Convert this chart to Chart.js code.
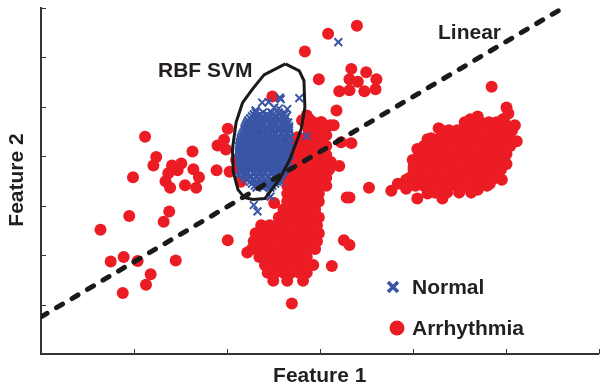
<!DOCTYPE html>
<html>
<head>
<meta charset="utf-8">
<script src="https://cdn.jsdelivr.net/npm/chart.js@4.4.1/dist/chart.umd.min.js"></script>
<style>
  html, body { margin: 0; padding: 0; background: #fff; }
  canvas { display: block; }
</style>
</head>
<body>
<canvas id="grafico" width="606" height="392"></canvas>
<script>
// ejes sin etiquetas: solo marcas
var xTicks = [0, 1, 2, 3, 4, 5, 6];
var yTicks = [0, 1, 2, 3, 4, 5, 6, 7];

// Normal: puntos sueltos [x, y]
var normalSueltos = [
  [3.20, 6.30], [2.78, 5.17], [2.86, 4.40], [2.29, 3.01], [2.33, 2.88], [2.47, 3.18],
  [2.38, 5.08], [2.57, 5.18], [2.51, 4.98], [2.45, 5.09], [2.58, 5.15], [2.56, 4.96],
  [2.65, 4.95], [2.14, 4.21], [2.12, 3.61], [2.45, 3.38], [2.58, 3.48], [2.31, 4.92]
];
// Normal: nube densa, por filas [y, [x...]]
var normalNube = [
  [4.88, [2.31, 2.39, 2.48, 2.56]],
  [4.84, [2.29, 2.36, 2.43, 2.50, 2.57, 2.62]],
  [4.80, [2.27, 2.33, 2.39, 2.46, 2.52, 2.59, 2.64]],
  [4.76, [2.25, 2.31, 2.38, 2.44, 2.50, 2.57, 2.63]],
  [4.72, [2.23, 2.30, 2.36, 2.43, 2.49, 2.55, 2.62]],
  [4.68, [2.22, 2.28, 2.34, 2.40, 2.47, 2.53, 2.60, 2.66]],
  [4.64, [2.21, 2.27, 2.33, 2.39, 2.46, 2.52, 2.59, 2.65]],
  [4.60, [2.20, 2.26, 2.32, 2.38, 2.44, 2.51, 2.57, 2.63, 2.67]],
  [4.56, [2.19, 2.24, 2.30, 2.36, 2.43, 2.49, 2.55, 2.62, 2.67]],
  [4.52, [2.19, 2.25, 2.31, 2.37, 2.43, 2.49, 2.56, 2.62, 2.67]],
  [4.48, [2.18, 2.22, 2.28, 2.33, 2.39, 2.46, 2.52, 2.59, 2.65]],
  [4.44, [2.17, 2.23, 2.29, 2.35, 2.41, 2.47, 2.53, 2.59, 2.65]],
  [4.40, [2.16, 2.20, 2.26, 2.31, 2.36, 2.43, 2.49, 2.55, 2.62, 2.67]],
  [4.36, [2.15, 2.21, 2.27, 2.33, 2.39, 2.45, 2.51, 2.57, 2.63, 2.68]],
  [4.32, [2.15, 2.19, 2.24, 2.30, 2.35, 2.40, 2.46, 2.52, 2.59, 2.65]],
  [4.28, [2.14, 2.20, 2.26, 2.32, 2.37, 2.43, 2.49, 2.55, 2.61, 2.67]],
  [4.24, [2.14, 2.18, 2.22, 2.28, 2.33, 2.38, 2.44, 2.49, 2.55, 2.62, 2.67]],
  [4.20, [2.13, 2.19, 2.25, 2.31, 2.36, 2.42, 2.48, 2.53, 2.59, 2.65]],
  [4.16, [2.14, 2.19, 2.24, 2.30, 2.35, 2.40, 2.46, 2.51, 2.56, 2.62, 2.67]],
  [4.12, [2.13, 2.16, 2.21, 2.27, 2.32, 2.38, 2.43, 2.49, 2.54, 2.59, 2.65]],
  [4.08, [2.13, 2.17, 2.22, 2.28, 2.33, 2.38, 2.44, 2.49, 2.54, 2.60, 2.65]],
  [4.04, [2.13, 2.18, 2.24, 2.29, 2.35, 2.41, 2.46, 2.52, 2.57, 2.63, 2.68]],
  [4.00, [2.14, 2.19, 2.24, 2.30, 2.35, 2.40, 2.46, 2.51, 2.56, 2.62, 2.67]],
  [3.96, [2.14, 2.16, 2.21, 2.27, 2.32, 2.38, 2.43, 2.48, 2.54, 2.59, 2.64]],
  [3.92, [2.14, 2.18, 2.23, 2.29, 2.34, 2.39, 2.45, 2.50, 2.55, 2.61, 2.66]],
  [3.88, [2.14, 2.20, 2.26, 2.31, 2.37, 2.42, 2.47, 2.53, 2.58, 2.64]],
  [3.84, [2.15, 2.20, 2.26, 2.31, 2.36, 2.41, 2.47, 2.52, 2.57, 2.64]],
  [3.80, [2.15, 2.18, 2.24, 2.29, 2.35, 2.40, 2.45, 2.51, 2.56, 2.62]],
  [3.76, [2.16, 2.21, 2.27, 2.32, 2.37, 2.43, 2.48, 2.53, 2.59, 2.64]],
  [3.72, [2.16, 2.19, 2.25, 2.32, 2.38, 2.44, 2.51, 2.57, 2.62]],
  [3.68, [2.17, 2.22, 2.29, 2.35, 2.41, 2.48, 2.54, 2.61]],
  [3.64, [2.18, 2.22, 2.29, 2.35, 2.41, 2.48, 2.54, 2.59]],
  [3.60, [2.19, 2.26, 2.32, 2.38, 2.45, 2.51, 2.57]],
  [3.56, [2.20, 2.25, 2.32, 2.38, 2.44, 2.51, 2.56]],
  [3.52, [2.22, 2.29, 2.35, 2.41, 2.48, 2.54]],
  [3.48, [2.25, 2.31, 2.37, 2.43, 2.49, 2.54]],
  [3.44, [2.27, 2.33, 2.39, 2.46, 2.52]],
  [3.40, [2.30, 2.36, 2.42, 2.49]],
  [3.36, [2.32, 2.39, 2.47]]
];

// Arrhythmia: puntos sueltos y grupos pequeños [x, y]
var arritmiaSueltos = [
  // izquierda
  [1.12, 4.39], [1.24, 3.98], [1.21, 3.81], [0.99, 3.57], [1.41, 3.81], [1.51, 3.85],
  [1.47, 3.71], [1.37, 3.65], [1.34, 3.49], [1.39, 3.36], [1.55, 3.41], [1.63, 4.09],
  [1.64, 3.73], [1.70, 3.57], [1.67, 3.36], [1.90, 4.21], [1.97, 4.33], [1.99, 4.13],
  [2.01, 4.55], [1.89, 3.71], [2.03, 3.68], [0.95, 2.79], [1.38, 2.88], [1.32, 2.67],
  [0.64, 2.51], [2.01, 2.30], [0.75, 1.87], [0.89, 1.96], [1.04, 1.88], [1.45, 1.89],
  [1.18, 1.61], [1.13, 1.40], [0.88, 1.23], [2.10, 3.92], [2.12, 3.75], [2.15, 3.48],
  [2.49, 5.20],
  // arriba
  [3.40, 6.63], [3.09, 6.47], [2.84, 6.11], [3.34, 5.76], [3.50, 5.69], [3.61, 5.55],
  [3.32, 5.55], [3.41, 5.50], [2.99, 5.55], [3.21, 5.31], [3.32, 5.33], [3.48, 5.31],
  [3.60, 5.35], [3.18, 4.92], [2.86, 4.82],
  // a la derecha de la nube azul
  [3.53, 3.36], [3.29, 3.16], [3.32, 3.16], [3.21, 3.80], [3.23, 4.28], [3.34, 4.26],
  [3.07, 4.42], [3.02, 4.68], [3.11, 4.62], [3.15, 4.62], [3.07, 4.02],
  [2.81, 4.72], [2.89, 4.74], [2.99, 4.64], [2.76, 4.38],
  // abajo
  [3.32, 2.20], [3.26, 2.30], [3.13, 1.78], [2.70, 1.02], [2.51, 3.05], [2.22, 2.05],
  // borde del grupo grande de la derecha
  [3.77, 3.30], [3.84, 3.44], [3.93, 3.52], [3.93, 3.34], [4.01, 3.78], [4.00, 3.92],
  [4.05, 4.14], [4.16, 4.34], [4.28, 4.56], [4.62, 4.74], [4.70, 4.80],
  [4.97, 4.74], [5.01, 4.98], [5.03, 4.86], [5.10, 4.62], [5.12, 4.30],
  [5.01, 3.84], [4.96, 3.52], [4.83, 3.44], [4.70, 3.32], [4.54, 3.38], [4.33, 3.28],
  [4.32, 3.14], [4.16, 3.24], [4.05, 3.14], [4.06, 3.44], [4.85, 5.40]
];
// Arrhythmia: zonas densas, por filas [y, [x...]]
var arritmiaCentro = [
  [4.68, [2.84, 2.93, 3.01]],
  [4.52, [2.88, 2.97, 3.05]],
  [4.36, [2.78, 2.86, 2.95, 3.03]],
  [4.20, [2.73, 2.82, 2.90, 2.99, 3.07]],
  [4.04, [2.71, 2.80, 2.88, 2.97, 3.05]],
  [3.88, [2.69, 2.78, 2.86, 2.95, 3.03, 3.12]],
  [3.72, [2.67, 2.76, 2.84, 2.93, 3.01, 3.10]],
  [3.56, [2.65, 2.73, 2.82, 2.90, 2.99, 3.07]],
  [3.40, [2.65, 2.73, 2.82, 2.90, 2.99, 3.07]],
  [3.24, [2.65, 2.73, 2.82, 2.90, 2.99]],
  [3.08, [2.65, 2.73, 2.82, 2.90, 2.99]],
  [2.92, [2.61, 2.69, 2.78, 2.86, 2.95]],
  [2.76, [2.56, 2.65, 2.73, 2.82, 2.90, 2.99]],
  [2.60, [2.37, 2.46, 2.54, 2.63, 2.71, 2.80, 2.88, 2.97]],
  [2.44, [2.31, 2.39, 2.48, 2.56, 2.65, 2.73, 2.82, 2.90, 2.99]],
  [2.28, [2.29, 2.37, 2.46, 2.54, 2.63, 2.71, 2.80, 2.88, 2.97]],
  [2.12, [2.27, 2.35, 2.44, 2.52, 2.61, 2.69, 2.78, 2.86, 2.95]],
  [1.96, [2.35, 2.44, 2.52, 2.61, 2.69, 2.78, 2.86]],
  [1.80, [2.41, 2.50, 2.59, 2.67, 2.76, 2.84, 2.93]],
  [1.64, [2.44, 2.52, 2.61, 2.69, 2.78, 2.86]],
  [1.48, [2.50, 2.65, 2.82]]
];
var arritmiaGrupo = [
  [4.68, [4.56, 4.65, 4.73, 4.82, 4.90, 4.99]],
  [4.52, [4.31, 4.39, 4.48, 4.56, 4.65, 4.73, 4.82, 4.90, 4.99, 5.07]],
  [4.36, [4.20, 4.29, 4.37, 4.46, 4.54, 4.63, 4.71, 4.80, 4.88, 4.97, 5.05]],
  [4.20, [4.12, 4.20, 4.29, 4.37, 4.46, 4.54, 4.63, 4.71, 4.80, 4.88, 4.97, 5.05]],
  [4.04, [4.07, 4.16, 4.24, 4.33, 4.41, 4.50, 4.59, 4.67, 4.76, 4.84, 4.93, 5.01]],
  [3.88, [4.03, 4.12, 4.20, 4.29, 4.37, 4.46, 4.54, 4.63, 4.71, 4.80, 4.88, 4.97]],
  [3.72, [4.01, 4.10, 4.18, 4.27, 4.35, 4.44, 4.52, 4.61, 4.69, 4.78, 4.86, 4.95]],
  [3.56, [3.97, 4.05, 4.14, 4.22, 4.31, 4.39, 4.48, 4.56, 4.65, 4.73, 4.82, 4.90]],
  [3.40, [4.03, 4.12, 4.20, 4.29, 4.37, 4.46, 4.54, 4.63, 4.71, 4.80]],
  [3.26, [4.24, 4.37, 4.50, 4.63]]
];

// fronteras de decisión
var fronteraLineal = [[0, 0.75], [5.59, 6.96]];
var fronteraRBF = [
  [2.63, 5.86], [2.78, 5.72], [2.83, 5.52], [2.84, 4.98], [2.80, 4.54], [2.74, 4.24],
  [2.68, 3.94], [2.57, 3.54], [2.41, 3.14], [2.28, 3.12], [2.19, 3.16], [2.12, 3.32],
  [2.07, 3.68], [2.06, 4.14], [2.10, 4.68], [2.17, 5.08], [2.28, 5.36], [2.40, 5.64],
  [2.63, 5.86]
];

function aPuntos(lista) {
  return lista.map(function (p) { return { x: p[0], y: p[1] }; });
}
function filasAPuntos(filas) {
  var out = [];
  filas.forEach(function (f) {
    f[1].forEach(function (x) { out.push({ x: x, y: f[0] }); });
  });
  return out;
}

var ROJO = "#ec1c24";
var AZUL = "#3a55a5";
var TEXTO = "#231f20";
var FUENTE = 'bold 21px "Liberation Sans", Arial, sans-serif';

var decoracion = {
  id: "decoracion",
  afterDraw: function (chart) {
    var ctx = chart.ctx, a = chart.chartArea;
    var sx = chart.scales.x, sy = chart.scales.y;
    ctx.save();
    // marcas hacia dentro
    ctx.strokeStyle = "#333";
    ctx.lineWidth = 1;
    ctx.beginPath();
    sx.ticks.forEach(function (t) {
      var px = Math.round(sx.getPixelForValue(t.value)) + 0.5;
      ctx.moveTo(px, a.bottom);
      ctx.lineTo(px, a.bottom - 5);
    });
    sy.ticks.forEach(function (t) {
      var py = Math.round(sy.getPixelForValue(t.value)) + 0.5;
      ctx.moveTo(a.left, py);
      ctx.lineTo(a.left + 5, py);
    });
    ctx.stroke();

    // títulos y etiquetas
    ctx.fillStyle = TEXTO;
    ctx.font = FUENTE;
    ctx.textBaseline = "middle";
    ctx.textAlign = "center";
    ctx.fillText("Feature 1", (a.left + a.right) / 2, 376);
    ctx.save();
    ctx.translate(17, 180);
    ctx.rotate(-Math.PI / 2);
    ctx.fillText("Feature 2", 0, 0);
    ctx.restore();
    ctx.textAlign = "left";
    ctx.fillText("RBF SVM", 158, 71);
    ctx.fillText("Linear", 438, 33);

    // leyenda
    var ds = chart.data.datasets;
    ctx.strokeStyle = AZUL;
    ctx.lineWidth = 3.5;
    ctx.beginPath();
    ctx.moveTo(388, 282); ctx.lineTo(398, 292);
    ctx.moveTo(398, 282); ctx.lineTo(388, 292);
    ctx.stroke();
    ctx.fillStyle = ROJO;
    ctx.beginPath();
    ctx.arc(397, 328, 7.5, 0, Math.PI * 2);
    ctx.fill();
    ctx.fillStyle = TEXTO;
    ctx.fillText(ds[2].label, 412, 288);
    ctx.fillText(ds[3].label, 412, 329);
    ctx.restore();
  }
};

var grafico = new Chart(document.getElementById("grafico"), {
  type: "scatter",
  data: {
    datasets: [{
      label: "Linear",
      type: "line",
      data: aPuntos(fronteraLineal),
      borderColor: "#1a1a1a",
      borderWidth: 5,
      borderDash: [7, 11],
      borderCapStyle: "round",
      pointRadius: 0,
      fill: false
    }, {
      label: "RBF SVM",
      type: "line",
      data: aPuntos(fronteraRBF),
      borderColor: "#1a1a1a",
      borderWidth: 3,
      borderJoinStyle: "round",
      pointRadius: 0,
      tension: 0,
      fill: false
    }, {
      label: "Normal",
      data: aPuntos(normalSueltos).concat(filasAPuntos(normalNube)),
      pointStyle: "crossRot",
      pointRadius: 5.5,
      borderColor: AZUL,
      borderWidth: 2
    }, {
      label: "Arrhythmia",
      data: aPuntos(arritmiaSueltos)
        .concat(filasAPuntos(arritmiaCentro))
        .concat(filasAPuntos(arritmiaGrupo)),
      pointStyle: "circle",
      pointRadius: 6,
      backgroundColor: ROJO,
      borderWidth: 0
    }]
  },
  options: {
    responsive: false,
    animation: false,
    devicePixelRatio: 1,
    events: [],
    layout: { padding: { left: 41, right: 1, top: 5, bottom: 38 } },
    plugins: {
      legend: { display: false },
      tooltip: { enabled: false },
      title: { display: false }
    },
    scales: {
      x: {
        type: "linear",
        min: xTicks[0],
        max: xTicks[xTicks.length - 1],
        afterBuildTicks: function (s) { s.ticks = xTicks.map(function (v) { return { value: v }; }); },
        ticks: { display: false },
        grid: { drawOnChartArea: false, drawTicks: false },
        border: { display: true, color: "#333", width: 2 }
      },
      y: {
        type: "linear",
        min: yTicks[0],
        max: yTicks[yTicks.length - 1],
        afterBuildTicks: function (s) { s.ticks = yTicks.map(function (v) { return { value: v }; }); },
        ticks: { display: false },
        grid: { drawOnChartArea: false, drawTicks: false },
        border: { display: true, color: "#333", width: 2 }
      }
    }
  },
  plugins: [decoracion]
});
</script>
</body>
</html>
